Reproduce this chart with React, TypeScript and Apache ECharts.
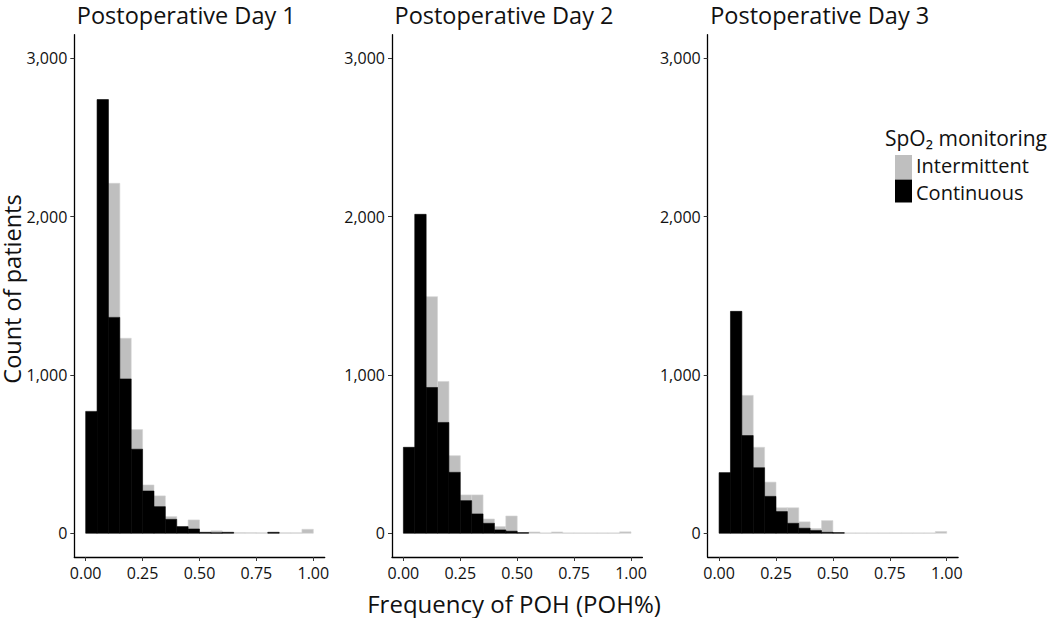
import React, { useEffect, useRef } from "react";
import * as echarts from "echarts";

// Bin starts (width 0.05) of the POH% histogram
const BIN_STARTS = [0, 0.05, 0.1, 0.15, 0.2, 0.25, 0.3, 0.35, 0.4, 0.45, 0.5, 0.55, 0.6, 0.65, 0.7, 0.75, 0.8, 0.85, 0.9, 0.95];
const BIN_WIDTH = 0.05;

// Day 1 counts
const DAY1_CONTINUOUS = [770, 2740, 1364, 975, 531, 267, 168, 88, 42, 27, 6, 3, 6, 0, 0, 0, 6, 0, 0, 0];
const DAY1_INTERMITTENT = [0, 0, 847, 257, 124, 38, 68, 17, 0, 57, 0, 12, 0, 4, 4, 3, 0, 3, 3, 25];
// Day 2 counts
const DAY2_CONTINUOUS = [543, 2015, 921, 700, 385, 206, 122, 63, 21, 13, 4, 0, 0, 0, 0, 0, 0, 0, 0, 0];
const DAY2_INTERMITTENT = [0, 0, 574, 259, 105, 36, 120, 27, 21, 96, 0, 8, 2, 8, 2, 2, 2, 2, 2, 9];
// Day 3 counts
const DAY3_CONTINUOUS = [383, 1402, 617, 414, 233, 137, 63, 32, 17, 6, 4, 0, 0, 0, 0, 0, 0, 0, 0, 0];
const DAY3_INTERMITTENT = [0, 0, 254, 129, 90, 24, 98, 40, 13, 74, 0, 2, 2, 2, 2, 2, 2, 2, 2, 11];

const PANEL_TITLES = ["Postoperative Day 1", "Postoperative Day 2", "Postoperative Day 3"];
const Y_TICKS = [0, 1000, 2000, 3000];
const X_TICKS = [0, 0.25, 0.5, 0.75, 1];
const SERIES_NAMES = ["Intermittent", "Continuous"];
const LEGEND_TITLE = "SpO₂ monitoring";
const X_NAME = "Frequency of POH (POH%)";
const Y_NAME = "Count of patients";

const FONT = "'Open Sans', 'Noto Sans', sans-serif";
const GREY = "#bfbfbf";
const BLACK = "#000000";

export default function App() {
  const ref = useRef<HTMLDivElement>(null);

  useEffect(() => {
    if (!ref.current) return;
    const chart = echarts.init(ref.current, undefined, { renderer: "svg" });

    const panels = [
      { cont: DAY1_CONTINUOUS, inter: DAY1_INTERMITTENT },
      { cont: DAY2_CONTINUOUS, inter: DAY2_INTERMITTENT },
      { cont: DAY3_CONTINUOUS, inter: DAY3_INTERMITTENT },
    ];
    const lefts = [74.3, 392, 707.7];
    const gridWidth = 250.4;
    const gridTop = 34.7;
    const gridHeight = 522.3;

    const grids = lefts.map((l) => ({ left: l, top: gridTop, width: gridWidth, height: gridHeight }));

    const xAxes = lefts.map((_, i) => ({
      type: "value",
      gridIndex: i,
      min: -0.05,
      max: 1.05,
      splitLine: { show: false },
      axisLine: { show: true, onZero: false, lineStyle: { color: "#000", width: 1.3 } },
      axisTick: { show: true, length: 4, customValues: X_TICKS, lineStyle: { color: "#333" } },
      axisLabel: {
        customValues: X_TICKS,
        formatter: (v: number) => v.toFixed(2),
        fontFamily: FONT,
        fontSize: 16,
        color: "#111",
        margin: 8,
      },
    }));

    const yAxes = lefts.map((_, i) => ({
      type: "value",
      gridIndex: i,
      min: -150,
      max: 3150,
      splitLine: { show: false },
      axisLine: { show: true, onZero: false, lineStyle: { color: "#000", width: 1.3 } },
      axisTick: { show: true, length: 4, customValues: Y_TICKS, lineStyle: { color: "#333" } },
      axisLabel: {
        customValues: Y_TICKS,
        formatter: (v: number) => v.toLocaleString("en-US"),
        fontFamily: FONT,
        fontSize: 16,
        color: "#111",
        margin: 7,
      },
    }));

    const makeRender = (color: string) => (params: any, api: any) => {
      const x0 = api.value(0);
      const x1 = api.value(1);
      const y0 = api.value(2);
      const y1 = api.value(3);
      if (y1 - y0 <= 0) return null;
      const p0 = api.coord([x0, y1]);
      const p1 = api.coord([x1, y0]);
      return {
        type: "rect",
        shape: { x: p0[0], y: p0[1], width: p1[0] - p0[0], height: p1[1] - p0[1] },
        style: {
          fill: color,
          stroke: color === GREY ? "#d4d4d4" : "#000",
          lineWidth: 0.6,
        },
      };
    };

    const series: any[] = [];
    panels.forEach((p, i) => {
      const contData = BIN_STARTS.map((b, k) => [b, b + BIN_WIDTH, 0, p.cont[k]]);
      const interData = BIN_STARTS.map((b, k) => [b, b + BIN_WIDTH, p.cont[k], p.cont[k] + p.inter[k]]);
      series.push({
        type: "custom",
        name: SERIES_NAMES[0],
        xAxisIndex: i,
        yAxisIndex: i,
        renderItem: makeRender(GREY),
        encode: { x: [0, 1], y: [2, 3] },
        data: interData,
        silent: true,
      });
      series.push({
        type: "custom",
        name: SERIES_NAMES[1],
        xAxisIndex: i,
        yAxisIndex: i,
        renderItem: makeRender(BLACK),
        encode: { x: [0, 1], y: [2, 3] },
        data: contData,
        silent: true,
      });
    });

    const titleStyle = { fontFamily: FONT, fontSize: 23.5, lineHeight: 24, fontWeight: "normal", fill: "#111" };
    const axisNameStyle = { fontFamily: FONT, fontSize: 24, lineHeight: 25, fontWeight: "normal", fill: "#111" };
    const legendStyle = { fontFamily: FONT, fontSize: 20, lineHeight: 21, fill: "#111" };
    const graphics: any[] = [];
    PANEL_TITLES.forEach((t, i) => {
      graphics.push({
        type: "text",
        x: lefts[i] + 2.5,
        y: 15,
        style: { ...titleStyle, text: t, verticalAlign: "middle", align: "left" },
      });
    });
    graphics.push({
      type: "text",
      x: 12,
      y: 289,
      rotation: Math.PI / 2,
      style: { ...axisNameStyle, fontSize: 23.5, lineHeight: 23, text: Y_NAME, align: "center", verticalAlign: "middle" },
    });
    graphics.push({
      type: "text",
      x: 514,
      y: 603,
      style: { ...axisNameStyle, text: X_NAME, align: "center", verticalAlign: "middle" },
    });
    // Legend
    graphics.push({
      type: "text",
      x: 885,
      y: 138,
      style: { fontFamily: FONT, fontSize: 21, lineHeight: 22, fill: "#111", text: LEGEND_TITLE, align: "left", verticalAlign: "middle" },
    });
    graphics.push({ type: "rect", shape: { x: 895, y: 155, width: 17, height: 24 }, style: { fill: GREY } });
    graphics.push({ type: "rect", shape: { x: 895, y: 179.5, width: 17, height: 23 }, style: { fill: BLACK } });
    graphics.push({
      type: "text",
      x: 916,
      y: 165.7,
      style: { ...legendStyle, text: SERIES_NAMES[0], align: "left", verticalAlign: "middle" },
    });
    graphics.push({
      type: "text",
      x: 916,
      y: 192,
      style: { ...legendStyle, text: SERIES_NAMES[1], align: "left", verticalAlign: "middle" },
    });

    chart.setOption({
      animation: false,
      backgroundColor: "#ffffff",
      grid: grids,
      xAxis: xAxes,
      yAxis: yAxes,
      series,
      graphic: graphics,
    });

    return () => chart.dispose();
  }, []);

  return (
    <div
      ref={ref}
      style={{ position: "fixed", left: 0, top: 0, width: 1050, height: 618, background: "#fff" }}
    />
  );
}
